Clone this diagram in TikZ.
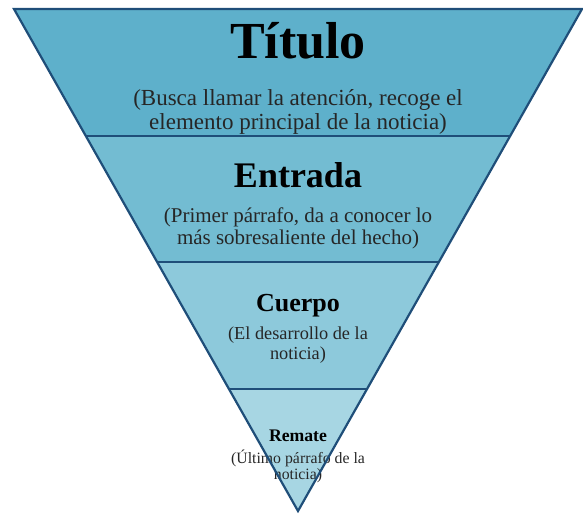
\documentclass[tikz,border=0pt]{standalone}
\usepackage{fontspec}
\setmainfont{Liberation Serif}
\definecolor{bandA}{HTML}{5EB0CB}
\definecolor{bandB}{HTML}{73BCD2}
\definecolor{bandC}{HTML}{8DC9DB}
\definecolor{bandD}{HTML}{A7D6E3}
\definecolor{edgeblue}{HTML}{1F4E79}
\definecolor{subtext}{HTML}{262626}
\tikzset{
  band/.style={draw=none},
  outline/.style={draw=edgeblue, line width=2.2pt, line join=miter},
  head/.style={inner sep=0pt, anchor=base, text=black},
  sub/.style={inner sep=0pt, anchor=base, align=center, text=subtext},
}
\begin{document}
\begin{tikzpicture}[x=1pt,y=-1pt]
\useasboundingbox (0,0) rectangle (583,514);
\coordinate (L0) at (14,9);   \coordinate (R0) at (582,9);
\coordinate (L1) at (86,136); \coordinate (R1) at (510,136);
\coordinate (L2) at (157,262);\coordinate (R2) at (439,262);
\coordinate (L3) at (228,389);\coordinate (R3) at (368,389);
\coordinate (AP) at (298,511);
% bands
\fill[bandA] (L0) -- (R0) -- (R1) -- (L1) -- cycle;
\fill[bandB] (L1) -- (R1) -- (R2) -- (L2) -- cycle;
\fill[bandC] (L2) -- (R2) -- (R3) -- (L3) -- cycle;
\fill[bandD] (L3) -- (R3) -- (AP) -- cycle;
% texts (base anchor of a two-line node = baseline of its last line)
\node[head, font=\fontsize{52}{52}\selectfont\bfseries] (titulo) at (298,58) {Título};
\node[sub, font=\fontsize{23}{24}\selectfont] (tituloSub) at (298,129)
  {(Busca llamar la atención, recoge el\\elemento principal de la noticia)};
\node[head, font=\fontsize{36}{36}\selectfont\bfseries] (entrada) at (298,187) {Entrada};
\node[sub, font=\fontsize{21}{22}\selectfont] (entradaSub) at (298,244)
  {(Primer párrafo, da a conocer lo\\más sobresaliente del hecho)};
\node[head, font=\fontsize{26}{26}\selectfont\bfseries] (cuerpo) at (298,311) {Cuerpo};
\node[sub, font=\fontsize{18.3}{19.5}\selectfont] (cuerpoSub) at (298,359)
  {(El desarrollo de la\\noticia)};
\node[head, font=\fontsize{17.7}{17.7}\selectfont\bfseries] (remate) at (298,441) {Remate};
\node[sub, font=\fontsize{15.8}{15.5}\selectfont] (remateSub) at (298,479)
  {(Último párrafo de la\\noticia)};
% outlines
\draw[outline] (L0) -- (R0) -- (AP) -- cycle;
\draw[outline] (L1) -- (R1);
\draw[outline] (L2) -- (R2);
\draw[outline] (L3) -- (R3);
\end{tikzpicture}
\end{document}
